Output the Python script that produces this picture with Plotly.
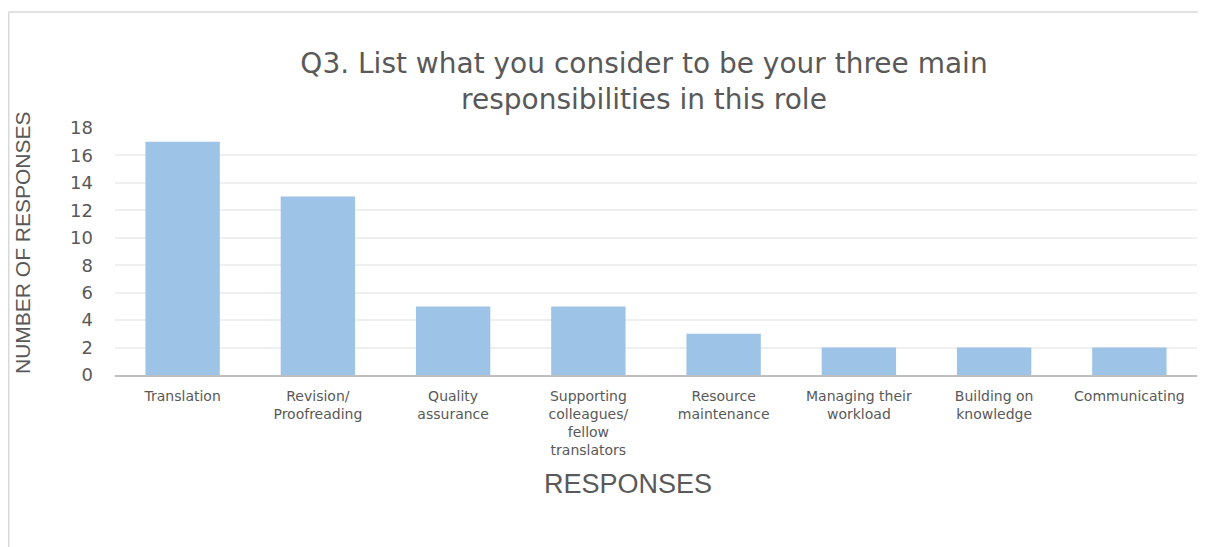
import plotly.graph_objects as go

categories = ["Translation", "Revision/<br>Proofreading", "Quality<br>assurance",
              "Supporting<br>colleagues/<br>fellow<br>translators", "Resource<br>maintenance",
              "Managing their<br>workload", "Building on<br>knowledge", "Communicating"]
values = [17, 13, 5, 5, 3, 2, 2, 2]
y_ticks = [0, 2, 4, 6, 8, 10, 12, 14, 16, 18]

# page has an 8px body margin, so figure coordinates are screen - 8
W, H = 1198, 539
L, R, T, B = 107, 9, 120, 172
pw, ph = W - L - R, H - T - B

def px_x(p):
    return (p - L) / pw

def px_y(p):
    return (H - B - p) / ph

fig = go.Figure(go.Bar(x=categories, y=values, marker=dict(color="#9DC3E6", line=dict(width=0)), width=0.55))

fig.update_layout(
    width=W, height=H,
    margin=dict(l=L, r=R, t=T, b=B),
    paper_bgcolor="white", plot_bgcolor="white",
    font=dict(family="DejaVu Sans", color="#595959"),
    showlegend=False,
    bargap=0.45,
    title=dict(text="Q3. List what you consider to be your three main<br>responsibilities in this role",
               x=636 / W, xanchor="center", y=1 - 65 / H, yanchor="middle",
               font=dict(size=28, color="#595959", family="DejaVu Sans")),
)
fig.update_yaxes(range=[0, 18], tickvals=y_ticks, showgrid=True, gridcolor="#EFEFEF", gridwidth=1.5,
                 zeroline=False, showline=False, ticks="", ticklabelstandoff=21,
                 tickfont=dict(size=18, color="#595959"), fixedrange=True)
fig.update_xaxes(showline=True, linecolor="#BFBFBF", linewidth=2, ticks="", showgrid=False,
                 tickfont=dict(size=14, color="#595959"), tickangle=0, ticklabelstandoff=7)

fig.add_annotation(text="NUMBER OF RESPONSES", xref="paper", yref="paper", x=px_x(14), y=px_y(235),
                   textangle=-90, showarrow=False, xanchor="center", yanchor="middle",
                   font=dict(size=21, family="Liberation Sans", color="#595959"))
fig.add_annotation(text="RESPONSES", xref="paper", yref="paper", x=px_x(620), y=px_y(476),
                   showarrow=False, xanchor="center", yanchor="middle",
                   font=dict(size=27, family="Liberation Sans", color="#595959"))

fig.add_shape(type="line", xref="paper", yref="paper", x0=px_x(0.75), x1=px_x(W), y0=px_y(4), y1=px_y(4),
              line=dict(color="#D9D9D9", width=1.5))
fig.add_shape(type="line", xref="paper", yref="paper", x0=px_x(0.75), x1=px_x(0.75), y0=px_y(4), y1=px_y(H),
              line=dict(color="#D9D9D9", width=1.5))

fig.write_html("out.html")
